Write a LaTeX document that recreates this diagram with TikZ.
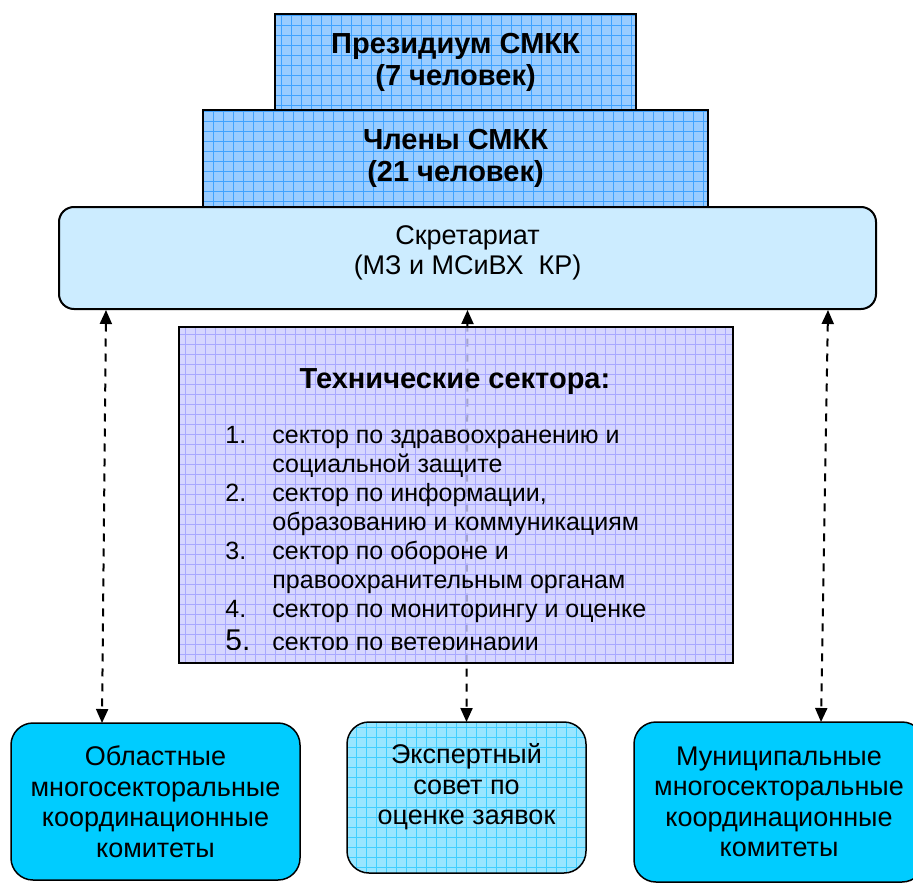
\documentclass[tikz,border=0pt]{standalone}
\usepackage{fontspec}
\setmainfont{Liberation Sans}
\usetikzlibrary{arrows.meta,calc}
\definecolor{ink}{HTML}{000000}
\definecolor{pblue}{HTML}{99CCFF}
\definecolor{gblue}{HTML}{3FA2FF}
\definecolor{lsec}{HTML}{CCECFF}
\definecolor{plav}{HTML}{CCCCFF}
\definecolor{glav}{HTML}{A8A8FF}
\definecolor{ccyan}{HTML}{00CCFF}
\definecolor{pcyan}{HTML}{99E6FF}
\definecolor{gcyan}{HTML}{40CFFF}
\tikzset{
  >={Triangle[length=7pt,width=6pt]},
  gridfill/.style={path picture={\draw[#1,line width=0.35pt,step=5pt]
      (path picture bounding box.south west) grid (path picture bounding box.north east);}},
  bx/.style={draw=ink,line width=1pt,inner sep=0pt,align=center},
  bxb/.style={bx,fill=pblue,gridfill=gblue,font=\fontsize{14.5}{16}\selectfont\bfseries},
  bxs/.style={bx,fill=lsec,rounded corners=7.5pt},
  bxt/.style={bx,fill=plav,fill opacity=0.8,gridfill=glav},
  bxc/.style={bx,line width=0.75pt,fill=ccyan,rounded corners=11pt,font=\fontsize{13.5}{15.25}\selectfont},
  bxx/.style={bxc,fill=pcyan,gridfill=gcyan},
  txt/.style={align=center,inner sep=0pt,font=\fontsize{13.5}{15}\selectfont},
  link/.style={<->,draw=ink,line width=1pt,dash pattern=on 4pt off 3.5pt},
}

\begin{document}
\begin{tikzpicture}[x=0.5pt,y=-0.5pt]
  \useasboundingbox (0,0) rectangle (913,882);
  % council
  \node[bxb,minimum width=252.5pt,minimum height=48.5pt] (chl) at (455.5,158.5) {Члены СМКК\\(21 человек)};
  \node[bxb,minimum width=180.5pt,minimum height=48pt] (prez) at (455.5,62) {Президиум СМКК\\(7 человек)};
  % secretariat
  \node[bxs,minimum width=408.5pt,minimum height=51pt] (secr) at (467.5,258) {};
  \node[txt] (secr-t) at ($(secr)+(0,-5)$) {Скретариат\\(МЗ и МСиВХ\ \ КР)};
  % links down to the committees
  \draw[link] ($(secr.south west)+(48,0)$) -- ($(11,723)+(91,0)$) coordinate (obl-in);
  \draw[link] (secr.south) -- (466.5,722) coordinate (exp-in);
  \draw[link] ($(secr.south east)+(-49,0)$) -- ($(634,722)+(187,0)$) coordinate (mun-in);
  % technical sectors
  \node[bxt,minimum width=277pt,minimum height=168pt] (tech) at (455.5,494.5) {};
  \node[font=\fontsize{14.5}{16}\selectfont\bfseries,inner sep=0pt] (tech-h) at (455,382) {Технические сектора:};
  \begin{scope}
    \clip (tech.north west) rectangle ($(tech.south east)+(0,-14)$);
    \node[anchor=north west,inner sep=0pt,font=\fontsize{12.5}{14.5}\selectfont] (tech-l) at (225,423) {%
      \begin{tabular}{@{}p{23.5pt}@{}l@{}}
        1. & сектор по здравоохранению и\\
           & социальной защите\\
        2. & сектор по информации,\\
           & образованию и коммуникациям\\
        3. & сектор по обороне и\\
           & правоохранительным органам\\
        4. & сектор по мониторингу и оценке\\[1.5pt]
        {\fontsize{15}{14.5}\selectfont 5.} & сектор по ветеринарии
      \end{tabular}};
  \end{scope}
  % committees
  \node[bxc,minimum width=144.5pt,minimum height=78.5pt] (obl) at (155.5,801.5) {Областные\\многосекторальные\\координационные\\комитеты};
  \node[bxx,minimum width=119.5pt,minimum height=75.5pt] (exp) at (466.5,797.5) {};
  \node[txt,font=\fontsize{13.5}{15.25}\selectfont] (exp-t) at ($(exp)+(0,-10.5)$) {Экспертный\\совет по\\оценке заявок};
  \node[bxc,minimum width=145pt,minimum height=80pt] (mun) at (779,802) {Муниципальные\\многосекторальные\\координационные\\комитеты};
\end{tikzpicture}
\end{document}
